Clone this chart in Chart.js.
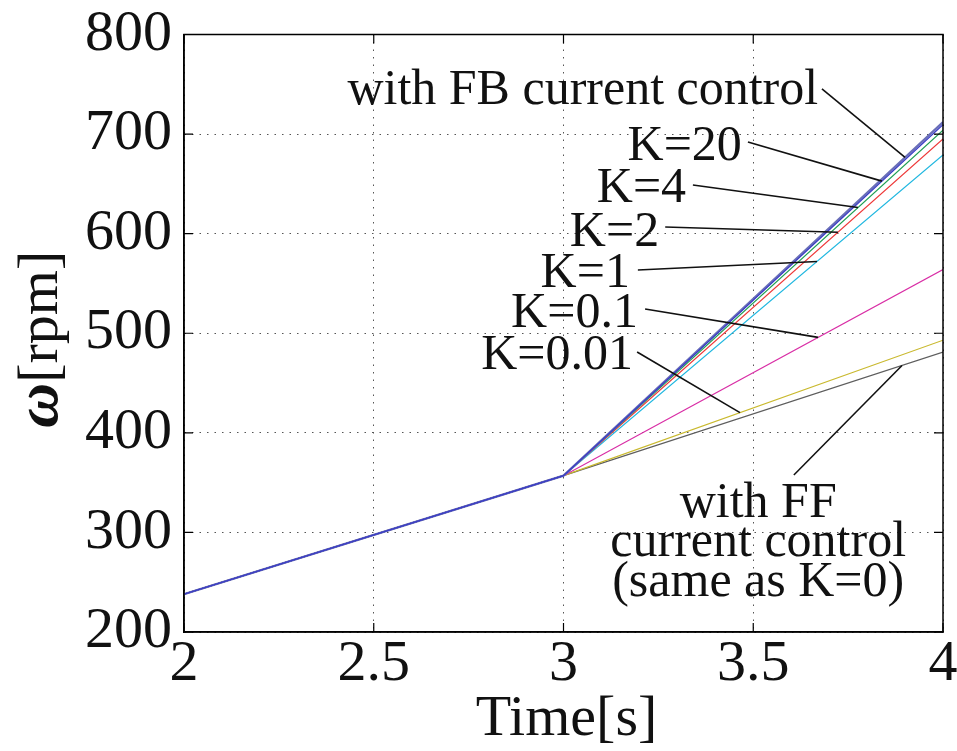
<!DOCTYPE html>
<html>
<head>
<meta charset="utf-8">
<script src="https://cdn.jsdelivr.net/npm/chart.js@4.4.1/dist/chart.umd.min.js"></script>
<style>
  html, body { margin: 0; padding: 0; background: #fff; }
  #wrap { width: 957px; height: 751px; }
</style>
</head>
<body>
<div id="wrap"><canvas id="speedChart"></canvas></div>
<script>
// time axis [s] and motor speed [rpm] for each current-control gain
const timeS = [2, 3, 4];
const fbCurrent = [238, 357, 712];
const k20 = [238, 357, 709.5];
const k4 = [238, 357, 704];
const k2 = [238, 357, 695];
const k1 = [238, 357, 679];
const k01 = [238, 357, 564];
const k001 = [238, 357, 493];
const ffCurrent = [238, 357, 481];

const xTicks = [2, 2.5, 3, 3.5, 4];
const yTicks = [200, 300, 400, 500, 600, 700, 800];

const SERIF = "'Liberation Serif', 'Times New Roman', serif";

const toPoints = (ys) => timeS.map((t, i) => ({ x: t, y: ys[i] }));

function lineDs(label, ys, color, width) {
  return {
    label,
    data: toPoints(ys),
    borderColor: color,
    borderWidth: width,
    pointRadius: 0,
    tension: 0,
    fill: false
  };
}

// dataset 0 is painted last, so K=20 sits on top of the FB line
const datasets = [
  lineDs("K=20", k20, "#3a3cc6", 1.3),
  lineDs("with FB current control", fbCurrent, "#6a6fb8", 2.2),
  lineDs("K=4", k4, "#22a055", 1.2),
  lineDs("K=2", k2, "#ee3a3a", 1.2),
  lineDs("K=1", k1, "#22b8e0", 1.2),
  lineDs("K=0.1", k01, "#d92fa6", 1.2),
  lineDs("K=0.01", k001, "#c9b92e", 1.2),
  lineDs("with FF current control (same as K=0)", ffCurrent, "#5e5e5e", 1.2)
];

// label callouts: text anchor and leader start in data units, leader ends on a series at time `at`
const callouts = [
  { lines: ["with FB current control"], align: "right", tx: 3.671, ty: 730.2, fx: 3.681, fy: 745.3, series: fbCurrent, at: 3.900 },
  { lines: ["K=20"], align: "right", tx: 3.470, ty: 674.1, fx: 3.486, fy: 692.0, series: k20, at: 3.839 },
  { lines: ["K=4"], align: "right", tx: 3.323, ty: 631.8, fx: 3.341, fy: 648.9, series: k4, at: 3.776 },
  { lines: ["K=2"], align: "right", tx: 3.252, ty: 587.6, fx: 3.268, fy: 606.7, series: k2, at: 3.723 },
  { lines: ["K=1"], align: "right", tx: 3.175, ty: 546.4, fx: 3.196, fy: 563.5, series: k1, at: 3.668 },
  { lines: ["K=0.1"], align: "right", tx: 3.196, ty: 506.3, fx: 3.215, fy: 524.4, series: k01, at: 3.671 },
  { lines: ["K=0.01"], align: "right", tx: 3.183, ty: 464.1, fx: 3.194, fy: 481.2, series: k001, at: 3.465 },
  { lines: ["with FF", "current control", "(same as K=0)"], align: "center", tx: 3.513, ty: 315.5, fx: 3.607, fy: 357.7, series: ffCurrent, at: 3.892 }
];

function valueAt(series, t) {
  for (let i = 0; i < timeS.length - 1; i++) {
    if (t >= timeS[i] && t <= timeS[i + 1]) {
      const f = (t - timeS[i]) / (timeS[i + 1] - timeS[i]);
      return series[i] + f * (series[i + 1] - series[i]);
    }
  }
  return series[series.length - 1];
}

const decorations = {
  id: "decorations",
  afterDatasetsDraw(chart) {
    const { ctx, chartArea: a, scales: { x, y } } = chart;
    ctx.save();

    // inward tick marks on all four sides
    ctx.strokeStyle = "#000";
    ctx.lineWidth = 1.2;
    ctx.beginPath();
    xTicks.forEach(v => {
      const px = x.getPixelForValue(v);
      ctx.moveTo(px, a.bottom); ctx.lineTo(px, a.bottom - 9);
      ctx.moveTo(px, a.top); ctx.lineTo(px, a.top + 9);
    });
    yTicks.forEach(v => {
      const py = y.getPixelForValue(v);
      ctx.moveTo(a.left, py); ctx.lineTo(a.left + 9, py);
      ctx.moveTo(a.right, py); ctx.lineTo(a.right - 9, py);
    });
    ctx.stroke();

    // closed box
    ctx.lineWidth = 1.5;
    ctx.strokeRect(a.left, a.top, a.right - a.left, a.bottom - a.top);

    // callouts
    ctx.font = "50px " + SERIF;
    ctx.fillStyle = "#111";
    ctx.strokeStyle = "#111";
    ctx.lineWidth = 1.6;
    ctx.textBaseline = "alphabetic";
    callouts.forEach(c => {
      const tx = x.getPixelForValue(c.tx);
      const ty = y.getPixelForValue(c.ty);
      ctx.textAlign = c.align;
      c.lines.forEach((s, i) => ctx.fillText(s, tx, ty + i * 39.5));
      ctx.beginPath();
      ctx.moveTo(x.getPixelForValue(c.fx), y.getPixelForValue(c.fy));
      ctx.lineTo(x.getPixelForValue(c.at), y.getPixelForValue(valueAt(c.series, c.at)));
      ctx.stroke();
    });

    // axis titles
    ctx.fillStyle = "#111";
    ctx.textAlign = "center";
    ctx.font = "58px " + SERIF;
    ctx.fillText("Time[s]", (a.left + a.right) / 2 + 3, 735);

    ctx.translate(57, (a.top + a.bottom) / 2 + 6);
    ctx.rotate(-Math.PI / 2);
    const omegaFont = "italic bold 62px " + SERIF;
    const restFont = "58px " + SERIF;
    ctx.font = omegaFont;
    const w1 = ctx.measureText("\u03c9").width;
    ctx.font = restFont;
    const w2 = ctx.measureText("[rpm]").width;
    const start = -(w1 + w2) / 2;
    ctx.textAlign = "left";
    ctx.font = omegaFont;
    ctx.fillText("\u03c9", start, 0);
    ctx.font = restFont;
    ctx.fillText("[rpm]", start + w1, 0);

    ctx.restore();
  }
};

new Chart(document.getElementById("speedChart"), {
  type: "line",
  data: { datasets },
  options: {
    responsive: true,
    maintainAspectRatio: false,
    animation: false,
    layout: { padding: { top: 34.5, right: 14, left: 0, bottom: 0 } },
    plugins: {
      legend: { display: false },
      tooltip: { enabled: false }
    },
    scales: {
      x: {
        type: "linear",
        min: 2,
        max: 4,
        afterBuildTicks: (s) => { s.ticks = xTicks.map(v => ({ value: v })); },
        afterFit: (s) => { s.height = 119; s.paddingLeft = 0; s.paddingRight = 0; },
        ticks: {
          color: "#111",
          padding: 4,
          maxRotation: 0,
          autoSkip: false,
          callback: (v) => String(Number(v)),
          font: { family: SERIF, size: 58, lineHeight: 1 }
        },
        grid: { color: "#555", lineWidth: 1, drawTicks: false },
        border: { display: true, color: "#000", width: 1.5, dash: [1.5, 6] }
      },
      y: {
        min: 200,
        max: 800,
        afterBuildTicks: (s) => { s.ticks = yTicks.map(v => ({ value: v })); },
        afterFit: (s) => { s.width = 184; s.paddingTop = 0; s.paddingBottom = 0; },
        ticks: {
          color: "#111",
          padding: 12,
          callback: (v) => String(Number(v)),
          font: { family: SERIF, size: 58, lineHeight: 1 }
        },
        grid: { color: "#555", lineWidth: 1, drawTicks: false },
        border: { display: true, color: "#000", width: 1.5, dash: [1.5, 6] }
      }
    }
  },
  plugins: [decorations]
});
</script>
</body>
</html>
